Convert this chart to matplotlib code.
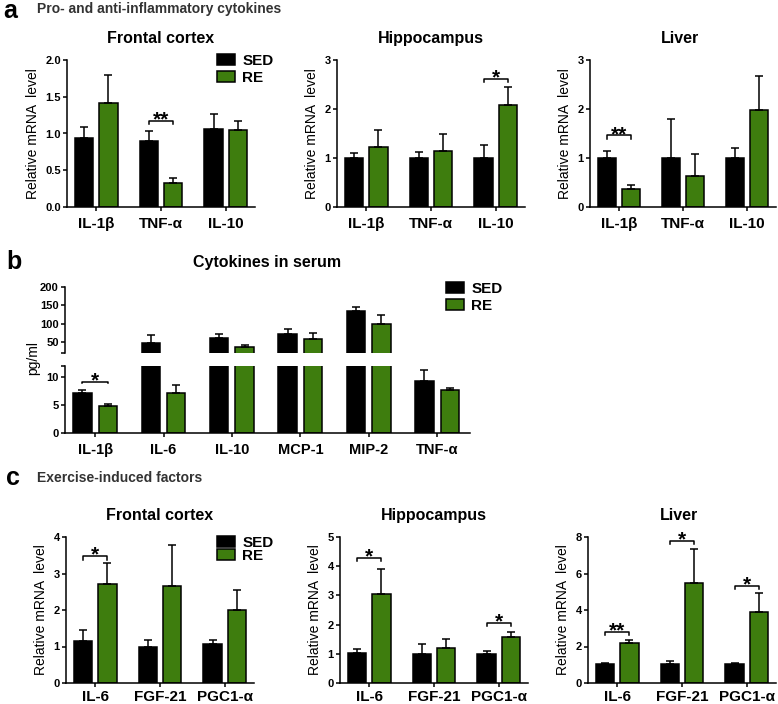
import matplotlib
matplotlib.use("Agg")
import matplotlib.pyplot as plt
from matplotlib.patches import Patch
import numpy as np

plt.rcParams["font.family"] = ["Liberation Sans", "DejaVu Sans"]

W, H = 778, 704
GREEN = "#3E7D0E"
LW = 1.1

# ---- panel a: pro- and anti-inflammatory cytokines (relative mRNA) ----
cyto_labels = ["IL-1β", "TNF-α", "IL-10"]

fc_sed = [0.945, 0.90, 1.06]
fc_sed_err = [0.145, 0.13, 0.21]
fc_re = [1.41, 0.33, 1.05]
fc_re_err = [0.38, 0.07, 0.12]

hc_sed = [1.01, 1.00, 1.00]
hc_sed_err = [0.09, 0.13, 0.27]
hc_re = [1.23, 1.14, 2.08]
hc_re_err = [0.34, 0.35, 0.36]

lv_sed = [1.00, 1.00, 1.00]
lv_sed_err = [0.15, 0.79, 0.21]
lv_re = [0.36, 0.64, 1.97]
lv_re_err = [0.08, 0.45, 0.70]

# ---- panel b: cytokines in serum (pg/ml) ----
serum_labels = ["IL-1β", "IL-6", "IL-10", "MCP-1", "MIP-2", "TNF-α"]
serum_sed = [7.1, 47, 60, 71, 135, 9.3]
serum_sed_err = [0.6, 23, 13, 15, 10, 1.9]
serum_re = [4.8, 7.1, 37, 58, 100, 7.7]
serum_re_err = [0.4, 1.5, 4, 17, 24, 0.3]

# ---- panel c: exercise-induced factors (relative mRNA) ----
factor_labels = ["IL-6", "FGF-21", "PGC1-α"]

cfc_sed = [1.16, 1.00, 1.06]
cfc_sed_err = [0.28, 0.18, 0.12]
cfc_re = [2.70, 2.67, 2.00]
cfc_re_err = [0.58, 1.10, 0.56]

chc_sed = [1.02, 1.01, 1.00]
chc_sed_err = [0.14, 0.31, 0.08]
chc_re = [3.06, 1.20, 1.56]
chc_re_err = [0.84, 0.29, 0.20]

clv_sed = [1.03, 1.03, 1.03]
clv_sed_err = [0.08, 0.15, 0.04]
clv_re = [2.17, 5.48, 3.90]
clv_re_err = [0.19, 1.86, 1.02]

# significance brackets: (category index, height, stars)
fc_sig = [(1, 1.17, "**")]
hc_sig = [(2, 2.62, "*")]
lv_sig = [(0, 1.46, "**")]
serum_sig = [(0, 9.2, "*")]
cfc_sig = [(0, 3.47, "*")]
chc_sig = [(0, 4.28, "*"), (2, 2.06, "*")]
clv_sig = [(0, 2.8, "**"), (1, 7.8, "*"), (2, 5.33, "*")]


def px_axes(fig, left, top, right, bottom):
    return fig.add_axes([left / W, 1 - bottom / H, (right - left) / W, (bottom - top) / H])


def style_axes(ax, yticks, yticklabels, xlabels=None, xsize=11, xpad=4.5):
    for s in ("top", "right"):
        ax.spines[s].set_visible(False)
    for s in ("left", "bottom"):
        ax.spines[s].set_linewidth(LW)
    ax.set_yticks(yticks)
    ax.set_yticklabels(yticklabels, fontsize=8, fontweight="bold")
    ax.tick_params(axis="y", length=3, width=LW, pad=1.5)
    if xlabels is not None:
        ax.set_xticks(np.arange(len(xlabels)))
        ax.set_xticklabels(xlabels, fontsize=xsize, fontweight="bold")
        ax.tick_params(axis="x", length=3, width=LW, pad=xpad)


def draw_bars(ax, sed, sed_err, re, re_err, width=0.28, off=0.19):
    x = np.arange(len(sed))
    zeros = np.zeros(len(sed))
    ekw = dict(elinewidth=LW, capsize=2.6, capthick=LW, ecolor="black")
    ax.bar(x - off, sed, width, yerr=[zeros, sed_err], color="black",
           edgecolor="black", linewidth=LW, error_kw=ekw)
    ax.bar(x + off, re, width, yerr=[zeros, re_err], color=GREEN,
           edgecolor="black", linewidth=LW, error_kw=ekw)


def draw_sig(ax, sigs, off=0.19):
    lo, hi = ax.get_ylim()
    drop = (hi - lo) * 0.022
    for i, y, txt in sigs:
        ax.plot([i - off, i - off, i + off, i + off], [y - drop, y, y, y - drop],
                color="black", lw=LW, clip_on=False)
        ax.annotate(txt, xy=(i, y), xytext=(0, -3.2), textcoords="offset points",
                    ha="center", va="baseline", fontsize=15, fontweight="bold",
                    annotation_clip=False)


def add_legend(ax, fig, x, y, spacing):
    handles = [Patch(facecolor="black", edgecolor="black", linewidth=LW),
               Patch(facecolor=GREEN, edgecolor="black", linewidth=LW)]
    ax.legend(handles, ["SED", "RE"], loc="upper left",
              bbox_to_anchor=(x / W, 1 - y / H), bbox_transform=fig.transFigure,
              frameon=False, prop={"weight": "bold", "size": 11},
              handlelength=1.2, handleheight=0.72, handletextpad=0.45,
              labelspacing=spacing, borderpad=0, borderaxespad=0)


def mrna_panel(fig, box, labels, sed, sed_err, re, re_err, sigs, ymax, ystep, fmt, xpad=4.5):
    ax = px_axes(fig, *box)
    draw_bars(ax, sed, sed_err, re, re_err)
    ax.set_xlim(-0.45, len(labels) - 0.55)
    ax.set_ylim(0, ymax)
    ticks = np.arange(0, ymax + ystep / 2, ystep)
    style_axes(ax, ticks, [fmt.format(t) for t in ticks], labels, xpad=xpad)
    ax.set_ylabel("Relative mRNA  level", fontsize=10, labelpad=4)
    draw_sig(ax, sigs)
    cx = (box[0] + box[2]) / 2 / W
    return ax, cx


fig = plt.figure(figsize=(W / 100, H / 100), dpi=100)

# panel letters and section headers
fig.text(3 / W, 1 - 18 / H, "a", fontsize=18, fontweight="bold")
fig.text(37 / W, 1 - 13 / H, "Pro- and anti-inflammatory cytokines",
         fontsize=10, fontweight="bold", color="#333333")
fig.text(6 / W, 1 - 269 / H, "b", fontsize=18, fontweight="bold")
fig.text(6 / W, 1 - 485 / H, "c", fontsize=18, fontweight="bold")
fig.text(37 / W, 1 - 482 / H, "Exercise-induced factors",
         fontsize=10, fontweight="bold", color="#333333")

# ---- panel a ----
ax, cx = mrna_panel(fig, (67, 60, 255, 207), cyto_labels,
                    fc_sed, fc_sed_err, fc_re, fc_re_err, fc_sig, 2.0, 0.5, "{:.1f}")
fig.text(cx, 1 - 43 / H, "Frontal cortex", ha="center", va="baseline",
         fontsize=11.5, fontweight="bold")
add_legend(ax, fig, 217, 54, 0.2)

ax, cx = mrna_panel(fig, (337, 60, 525, 207), cyto_labels,
                    hc_sed, hc_sed_err, hc_re, hc_re_err, hc_sig, 3, 1, "{:.0f}")
fig.text(cx, 1 - 43 / H, "Hippocampus", ha="center", va="baseline",
         fontsize=11.5, fontweight="bold")

ax, cx = mrna_panel(fig, (590, 60, 776, 207), cyto_labels,
                    lv_sed, lv_sed_err, lv_re, lv_re_err, lv_sig, 3, 1, "{:.0f}")
fig.text(cx - 3 / W, 1 - 43 / H, "Liver", ha="center", va="baseline",
         fontsize=11.5, fontweight="bold")

# ---- panel b: broken y axis ----
b_off, b_w = 0.186, 0.27
b_xlim = (-0.44, 5.48)
ax_up = px_axes(fig, 65, 287, 470, 353)
ax_lo = px_axes(fig, 65, 366, 470, 433)
for a in (ax_up, ax_lo):
    draw_bars(a, serum_sed, serum_sed_err, serum_re, serum_re_err, width=b_w, off=b_off)
    a.set_xlim(*b_xlim)
ax_up.set_ylim(20, 200)
ax_lo.set_ylim(0, 12)
style_axes(ax_up, [20, 50, 100, 150, 200], ["", "50", "100", "150", "200"])
ax_up.spines["bottom"].set_visible(False)
ax_up.set_xticks([])
style_axes(ax_lo, [0, 5, 10, 12], ["0", "5", "10", ""], serum_labels, xsize=10.5)
draw_sig(ax_lo, serum_sig, off=b_off)
fig.text(0.5 * (65 + 470) / W, 1 - 267 / H, "Cytokines in serum", ha="center",
         va="baseline", fontsize=11.5, fontweight="bold")
fig.text(33 / W, 1 - 358 / H, "pg/ml", rotation=90, ha="center", va="center", fontsize=10)
add_legend(ax_up, fig, 446, 282, 0.2)

# ---- panel c ----
ax, cx = mrna_panel(fig, (66, 537, 254, 683), factor_labels,
                    cfc_sed, cfc_sed_err, cfc_re, cfc_re_err, cfc_sig, 4, 1, "{:.0f}", xpad=2)
fig.text(cx, 1 - 520 / H, "Frontal cortex", ha="center", va="baseline",
         fontsize=11.5, fontweight="bold")
add_legend(ax, fig, 217, 536, -0.05)

ax, cx = mrna_panel(fig, (340, 537, 528, 683), factor_labels,
                    chc_sed, chc_sed_err, chc_re, chc_re_err, chc_sig, 5, 1, "{:.0f}", xpad=2)
fig.text(cx, 1 - 520 / H, "Hippocampus", ha="center", va="baseline",
         fontsize=11.5, fontweight="bold")

ax, cx = mrna_panel(fig, (588, 537, 776, 683), factor_labels,
                    clv_sed, clv_sed_err, clv_re, clv_re_err, clv_sig, 8, 2, "{:.0f}", xpad=2)
fig.text(cx - 3 / W, 1 - 520 / H, "Liver", ha="center", va="baseline",
         fontsize=11.5, fontweight="bold")

fig.savefig("out.png", dpi=100)
